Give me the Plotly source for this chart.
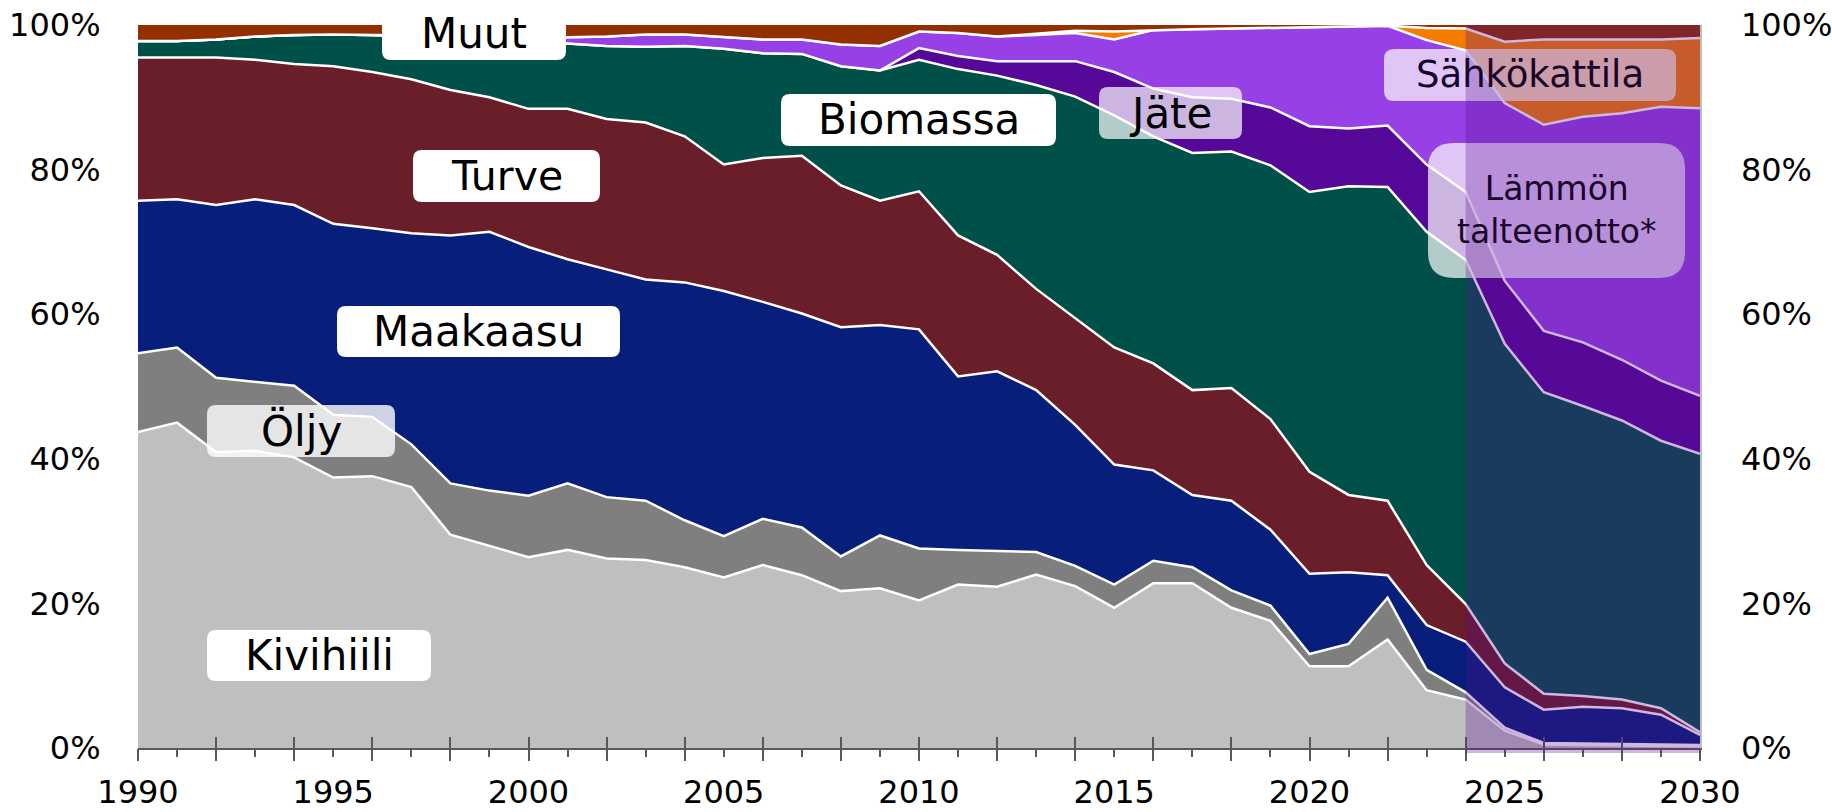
import plotly.graph_objects as go

years = list(range(1990, 2031))

kivihiili = [43.7, 45.0, 40.9, 41.1, 40.2, 37.4, 37.6, 36.1, 29.5, 27.9, 26.4, 27.4, 26.2, 26.0, 25.0, 23.6,
             25.3, 23.9, 21.7, 22.1, 20.4, 22.6, 22.3, 24.0, 22.4, 19.4, 22.8, 22.8, 19.4, 17.6, 11.3, 11.3,
             15.0, 8.0, 6.7, 2.4, 0.5, 0.4, 0.3, 0.3, 0.2]
oljy = [10.9, 10.4, 10.3, 9.5, 9.9, 8.7, 8.2, 5.9, 7.1, 7.7, 8.5, 9.2, 8.5, 8.2, 6.5, 5.7, 6.4, 6.6, 4.8, 7.3,
        7.2, 4.8, 5.0, 3.1, 2.8, 3.2, 3.1, 2.2, 2.4, 2.1, 1.7, 3.1, 5.8, 2.8, 1.0, 0.4, 0.2, 0.2, 0.2, 0.2, 0.2]
maakaasu = [21.1, 20.5, 23.9, 25.3, 25.0, 26.4, 26.1, 29.2, 34.3, 35.8, 34.4, 31.0, 31.5, 30.6, 32.9, 33.9,
            30.0, 29.6, 31.7, 29.1, 30.3, 24.0, 24.8, 22.4, 19.5, 16.6, 12.5, 10.0, 12.4, 10.5, 11.1, 9.9,
            3.1, 6.2, 7.0, 5.6, 4.6, 5.1, 5.0, 4.1, 1.4]
turve = [19.8, 19.6, 20.4, 19.3, 19.5, 21.8, 21.6, 21.3, 20.1, 18.6, 19.1, 20.8, 20.8, 21.7, 20.2, 17.5,
         19.9, 21.8, 19.6, 17.2, 19.1, 19.5, 16.1, 14.0, 14.8, 16.2, 14.8, 14.5, 15.6, 15.3, 14.1, 10.7,
         10.3, 8.3, 5.2, 3.3, 2.2, 1.5, 1.2, 0.9, 0.4]
biomassa = [2.3, 2.3, 2.5, 3.2, 4.0, 4.4, 5.1, 6.0, 7.4, 8.2, 9.4, 9.1, 10.1, 10.5, 12.5, 16.0, 14.5, 14.1,
            16.5, 18.0, 18.2, 23.0, 24.8, 28.2, 30.6, 32.1, 31.4, 32.8, 32.7, 35.1, 38.7, 42.7, 43.4, 46.1,
            47.6, 44.2, 41.7, 40.1, 38.6, 37.0, 38.5]
jate = [0, 0, 0, 0, 0, 0, 0, 0, 0, 0, 0, 0, 0, 0, 0, 0, 0, 0, 0, 0,
        1.6, 1.8, 2.0, 3.3, 4.9, 6.0, 6.6, 7.7, 7.3, 8.0, 9.1, 8.0, 8.5, 9.3, 9.4, 8.7, 8.5, 8.8, 8.4, 8.3, 8.0]
lammon_talteenotto = [0, 0, 0, 0, 0, 0, 0, 0, 0.1, 0.3, 0.6, 0.8, 1.3, 1.7, 1.6, 1.7, 1.9, 2.0, 3.0, 3.4,
                      2.3, 3.2, 3.4, 3.6, 3.9, 4.5, 8.1, 9.4, 9.7, 11.0, 13.8, 14.2, 13.8, 17.2, 19.6, 24.6,
                      28.5, 31.2, 34.1, 37.9, 39.8]
sahkokattila = [0, 0, 0, 0, 0, 0, 0, 0, 0, 0, 0, 0, 0, 0, 0, 0, 0, 0, 0, 0,
                0, 0, 0, 0.2, 0.3, 1.1, 0, 0, 0, 0, 0, 0, 0, 1.7, 3.0, 8.5, 11.8, 10.7, 10.2, 9.3, 9.7]
muut = [2.2, 2.2, 2.0, 1.6, 1.4, 1.3, 1.4, 1.5, 1.5, 1.5, 1.6, 1.7, 1.6, 1.3, 1.3, 1.6, 2.0, 2.0, 2.7, 2.9,
        0.9, 1.1, 1.6, 1.2, 0.8, 0.9, 0.7, 0.6, 0.5, 0.4, 0.2, 0.1, 0.1, 0.4, 0.5, 2.3, 2.0, 2.0, 2.0, 2.0, 1.8]

label_years = [1990, 1995, 2000, 2005, 2010, 2015, 2020, 2025, 2030]
pct_ticks = [0, 20, 40, 60, 80, 100]
forecast_start = 2024

series = [
    ("Kivihiili", kivihiili, "#bfbfbf"),
    ("Öljy", oljy, "#7f7f7f"),
    ("Maakaasu", maakaasu, "#071f7a"),
    ("Turve", turve, "#6a1e29"),
    ("Biomassa", biomassa, "#00504a"),
    ("Jäte", jate, "#560899"),
    ("Lämmön talteenotto", lammon_talteenotto, "#9640e5"),
    ("Sähkökattila", sahkokattila, "#f57c00"),
    ("Muut", muut, "#943000"),
]

W, H = 1832, 812
ML, MR, MT, MB = 138, 132, 25, 64
PW, PH = W - ML - MR, H - MT - MB
FONT = "DejaVu Sans"

fig = go.Figure()
for name, vals, col in series:
    fig.add_trace(go.Scatter(
        x=years, y=vals, name=name, stackgroup="one", mode="lines",
        line=dict(color="white", width=0 if name == "Muut" else 2.5),
        fillcolor=col, hoverinfo="skip", showlegend=False))

# helper traces so overlaid tick axes are drawn
fig.add_trace(go.Scatter(x=years, y=[None] * len(years), xaxis="x2", yaxis="y",
                         mode="lines", showlegend=False, hoverinfo="skip"))
fig.add_trace(go.Scatter(x=years, y=[None] * len(years), xaxis="x3", yaxis="y",
                         mode="lines", showlegend=False, hoverinfo="skip"))
fig.add_trace(go.Scatter(x=years, y=[None] * len(years), xaxis="x", yaxis="y2",
                         mode="lines", showlegend=False, hoverinfo="skip"))


def px2paper(x, y):
    return (x - ML) / PW, (MT + PH - y) / PH


def rounded_box(x0, y0, x1, y1, r):
    def P(x, y):
        px, py = px2paper(x, y)
        return f"{px:.5f},{py:.5f}"
    return (f"M {P(x0 + r, y0)} L {P(x1 - r, y0)} Q {P(x1, y0)} {P(x1, y0 + r)} "
            f"L {P(x1, y1 - r)} Q {P(x1, y1)} {P(x1 - r, y1)} "
            f"L {P(x0 + r, y1)} Q {P(x0, y1)} {P(x0, y1 - r)} "
            f"L {P(x0, y0 + r)} Q {P(x0, y0)} {P(x0 + r, y0)} Z")


labels = [
    # text, box (x0,y0,x1,y1) px, radius, box alpha, font size, text color
    ("Muut", (382, 8, 566, 60), 9, 1.0, 42, "black"),
    ("Turve", (413, 150, 600, 202), 9, 1.0, 41, "black"),
    ("Maakaasu", (337, 306, 620, 357), 9, 1.0, 42, "black"),
    ("Öljy", (207, 405, 395, 457), 9, 0.8, 42, "black"),
    ("Kivihiili", (207, 630, 431, 681), 9, 1.0, 42, "black"),
    ("Biomassa", (781, 94, 1056, 146), 9, 1.0, 42, "black"),
    ("Jäte", (1099, 87, 1242, 139), 9, 0.7, 42, "black"),
    ("Sähkökattila", (1384, 49, 1676, 101), 10, 0.7, 37, "#16032a"),
    ("Lämmön<br>talteenotto*", (1428, 143, 1685, 278), 26, 0.7, 33, "#19032a"),
]

shapes = []
annotations = []
for text, (x0, y0, x1, y1), r, a, fs, tc in labels:
    shapes.append(dict(type="path", xref="paper", yref="paper", path=rounded_box(x0, y0, x1, y1, r),
                       fillcolor=f"rgba(255,255,255,{a})", line=dict(width=0), layer="above"))
    cx, cy = px2paper((x0 + x1) / 2, (y0 + y1) / 2)
    annotations.append(dict(text=text, xref="paper", yref="paper", x=cx, y=cy, showarrow=False,
                            xanchor="center", yanchor="middle", align="center",
                            font=dict(family=FONT, size=fs, color=tc)))

# forecast overlay
span = years[-1] - years[0]
shapes.append(dict(type="rect", xref="paper", yref="paper",
                   x0=(forecast_start - years[0]) / span, x1=1.0,
                   y0=-5 / PH, y1=1.0,
                   fillcolor="rgba(85,12,146,0.29)", line=dict(width=0), layer="above"))

tickfont = dict(family=FONT, size=32, color="black")
fig.update_layout(
    width=W, height=H,
    margin=dict(l=ML, r=MR, t=MT, b=MB, pad=0, autoexpand=False),
    paper_bgcolor="white", plot_bgcolor="white",
    showlegend=False,
    xaxis=dict(range=[years[0], years[-1]], tickmode="array", tickvals=label_years,
               ticktext=[str(y) for y in label_years], ticks="outside", ticklen=15,
               tickcolor="rgba(0,0,0,0)", showline=True, linecolor="#595959", linewidth=2,
               showgrid=False, zeroline=False, tickfont=tickfont, automargin=False),
    xaxis2=dict(overlaying="x", anchor="y", side="bottom", range=[years[0], years[-1]],
                tickmode="linear", tick0=years[0], dtick=2, ticks="outside", ticklen=12, tickwidth=2,
                tickcolor="#595959", showticklabels=False, showgrid=False, zeroline=False,
                showline=False, automargin=False,
                minor=dict(tickmode="linear", tick0=years[0], dtick=1, ticks="outside", ticklen=8,
                           tickwidth=2, tickcolor="#595959", showgrid=False)),
    xaxis3=dict(overlaying="x", anchor="y", side="bottom", range=[years[0], years[-1]],
                tickmode="linear", tick0=years[0], dtick=2, ticks="inside", ticklen=11, tickwidth=2,
                tickcolor="#595959", showticklabels=False, showgrid=False, zeroline=False,
                showline=False, automargin=False),
    yaxis=dict(range=[0, 100], tickmode="array", tickvals=pct_ticks,
               ticktext=[f"{v}%" for v in pct_ticks], ticks="outside", ticklen=30,
               tickcolor="rgba(0,0,0,0)", showgrid=False, zeroline=False, showline=False,
               tickfont=tickfont, automargin=False),
    yaxis2=dict(overlaying="y", anchor="x", side="right", range=[0, 100], tickmode="array",
                tickvals=pct_ticks, ticktext=[f"{v}%" for v in pct_ticks], ticks="outside",
                ticklen=33, tickcolor="rgba(0,0,0,0)", showgrid=False, zeroline=False,
                showline=True, linecolor="#bdbdbd", linewidth=1.5, tickfont=tickfont,
                automargin=False),
    shapes=shapes,
    annotations=annotations,
)

fig.write_html("out.html", config={"displayModeBar": False, "staticPlot": True},
               post_script="document.body.style.margin='0';document.body.style.overflow='hidden';")
